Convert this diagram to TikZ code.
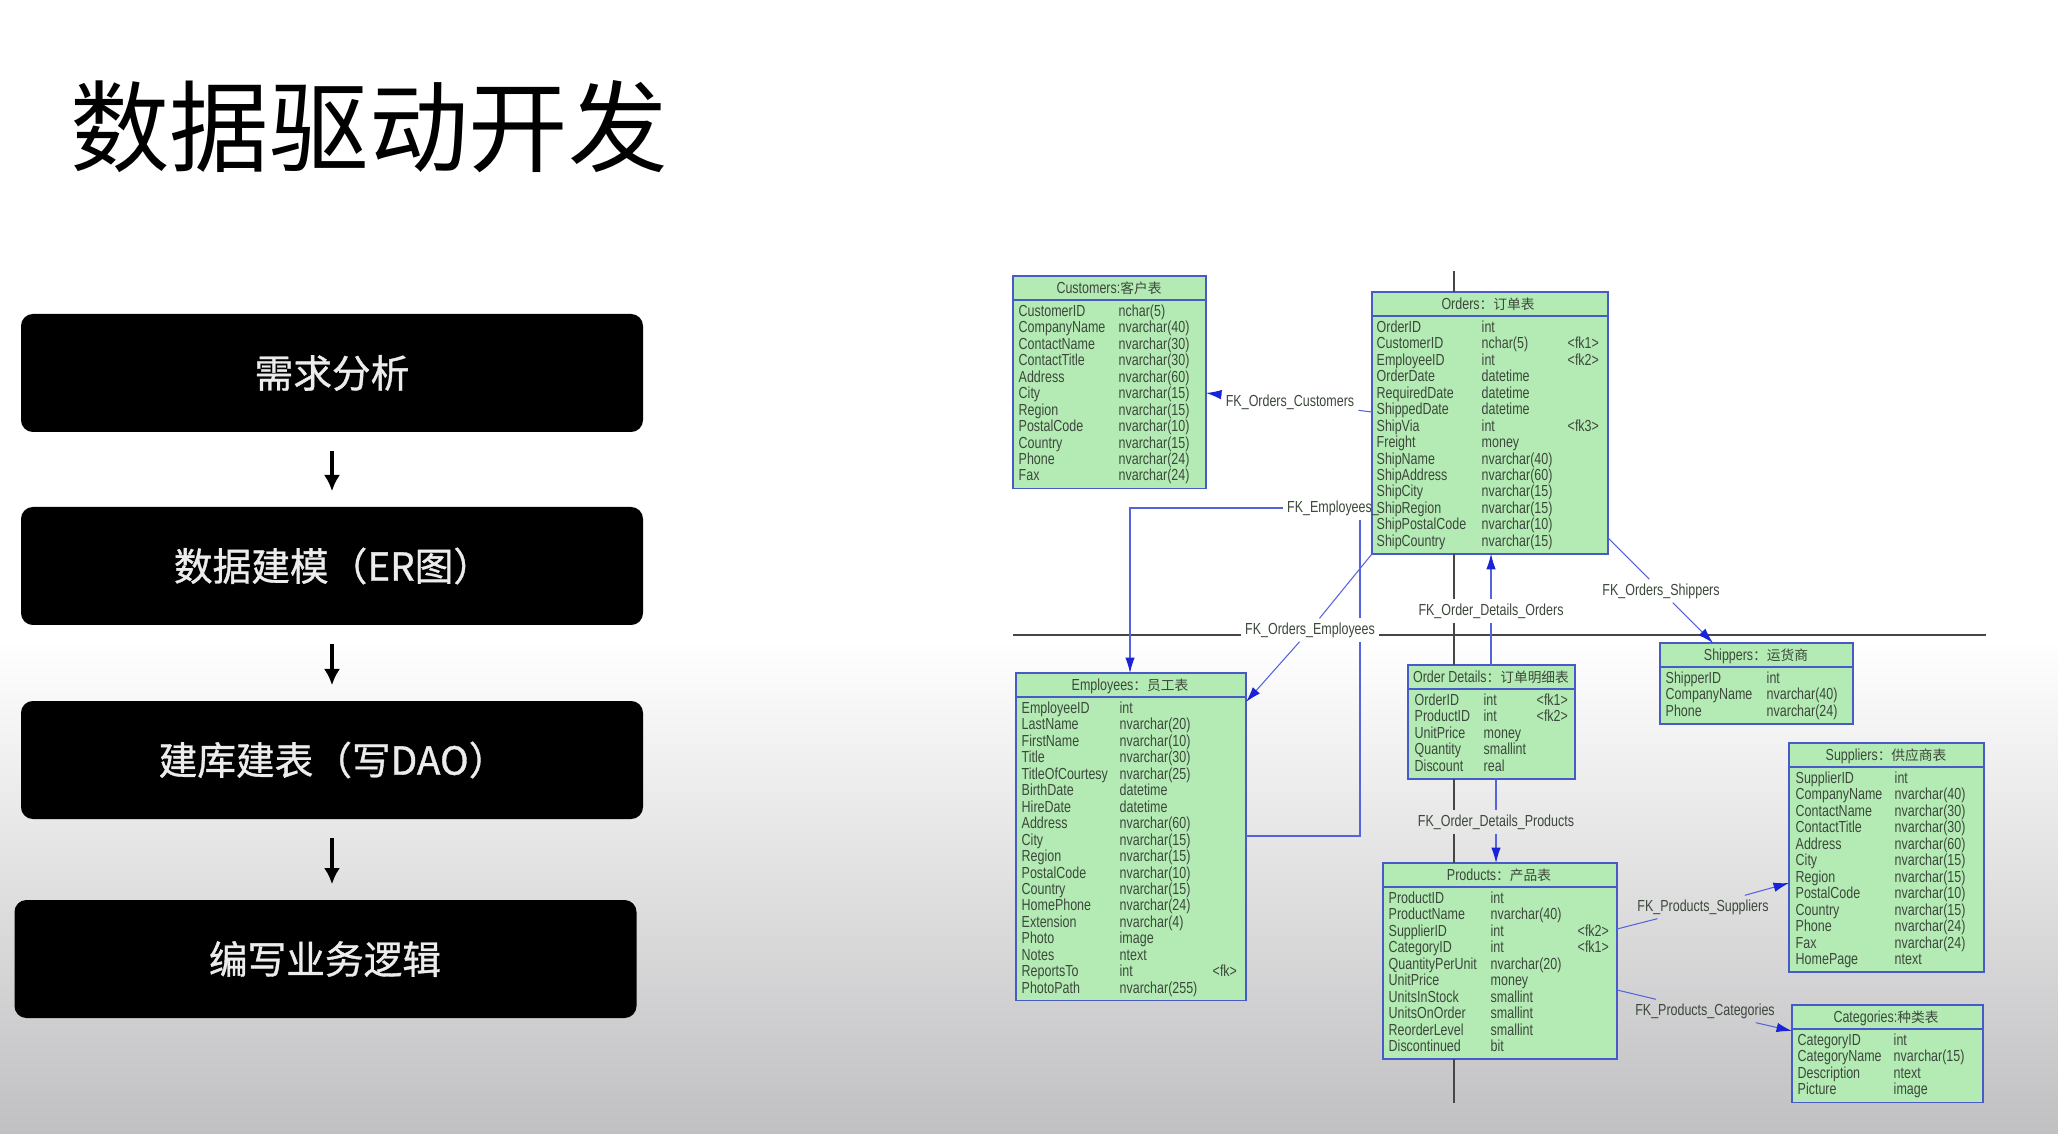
\documentclass[tikz,border=0pt]{standalone}
\usepackage{fontspec}
\usetikzlibrary{arrows.meta,calc}
\newfontfamily\erfont[FakeStretch=0.78]{Liberation Sans}
\newfontfamily\cjk{Noto Sans CJK SC}
\newfontfamily\cjkm[FakeBold=0.9]{Noto Sans CJK SC}
\newcommand\pxu{0.01cm}
\newcommand\ersize{\fontsize{4.55pt}{5pt}\selectfont}
\newcommand\hz[1]{{\cjk\fontsize{3.9pt}{4.5pt}\selectfont #1}}
\definecolor{tblfill}{RGB}{180,235,180}
\definecolor{tblline}{RGB}{72,90,200}
\definecolor{fkblue}{RGB}{85,100,220}
\definecolor{arrblue}{RGB}{25,35,215}
\definecolor{ertext}{RGB}{60,72,60}
\definecolor{pagecol}{RGB}{70,70,70}
\definecolor{bgbot}{RGB}{192,192,194}
\definecolor{flowtext}{RGB}{236,236,236}
\tikzset{
  tbl/.style={draw=tblline, fill=tblfill, line width=0.45pt, anchor=north west, inner sep=0pt, outer sep=0pt},
  tblsep/.style={draw=tblline, line width=0.45pt},
  cell/.style={anchor=base west, inner sep=0pt, font=\erfont\ersize, text=ertext},
  hdr/.style={anchor=base, inner sep=0pt, font=\erfont\ersize, text=ertext},
  fklbl/.style={inner sep=1pt, font=\erfont\ersize, text=ertext},
  fk/.style={draw=fkblue, line width=0.3pt},
  fkarr/.style={draw=fkblue, line width=0.3pt, -{Latex[length=4.4pt,width=2.7pt,color=arrblue]}},
  page/.style={draw=pagecol, line width=0.3pt},
  flowbox/.style={fill=black, rounded corners=3.4pt, inner sep=0pt, minimum width=622*\pxu, minimum height=118*\pxu},
  flowtxt/.style={font=\cjkm\fontsize{11pt}{13pt}\selectfont, text=flowtext, inner sep=0pt},
  flowarr/.style={draw=black, line width=0.9pt, -{Latex[length=4.6pt,width=4.6pt]}, shorten <=5.3pt, shorten >=4.3pt}
}
\newcommand\ertable[5]{%
  \pgfmathsetmacro\tabh{48+(#5-1)*16.45}%
  \node[tbl, minimum width=#4*\pxu, minimum height=\tabh*\pxu] (#1) at (#2,#3) {};
  \draw[tblsep] ([yshift=-24*\pxu]#1.north west) -- ([yshift=-24*\pxu]#1.north east);
}
\newcommand\errows[5]{%
  \foreach \fa/\fb [count=\i from 0] in {#5} {
    \node[cell] (#1-a\i) at (#2, #4+40.5+\i*16.45) {\fa};
    \node[cell] (#1-b\i) at (#3, #4+40.5+\i*16.45) {\fb};
  }%
}
\begin{document}
\begin{tikzpicture}[x=0.01cm, y=-0.01cm]
\useasboundingbox (0,0) rectangle (2058,1134);
\fill[white] (0,0) rectangle (2058,1134);
\shade[top color=white, bottom color=bgbot] (0,640) rectangle (2058,1134);

% title
\node[font=\cjk\fontsize{28.3pt}{32pt}\selectfont, inner sep=0pt] (title) at (369,127) {数据驱动开发};

% flow
\node[flowbox] (b1) at (332,373) {};
\node[flowbox] (b2) at (332,566) {};
\node[flowbox] (b3) at (332,760) {};
\node[flowbox] (b4) at (325.5,959) {};
\node[flowtxt] (t1) at (332,373) {需求分析};
\node[flowtxt] (t2) at (333,566) {数据建模（ER图）};
\node[flowtxt] (t3) at (333,760) {建库建表（写DAO）};
\node[flowtxt] (t4) at (325,959) {编写业务逻辑};
\draw[flowarr] (b1.south) -- (b2.north);
\draw[flowarr] (b2.south) -- (b3.north);
\draw[flowarr] (b3.south) -- (b3.south |- b4.north);

% tables
\ertable{cust}{1013}{276}{193}{11}
\node[hdr] (cust-h) at (1109,293.5) {Customers:\hz{客户表}};
\errows{cust}{1018}{1118}{276}{CustomerID/nchar(5), CompanyName/nvarchar(40), ContactName/nvarchar(30), ContactTitle/nvarchar(30), Address/nvarchar(60), City/nvarchar(15), Region/nvarchar(15), PostalCode/nvarchar(10), Country/nvarchar(15), Phone/nvarchar(24), Fax/nvarchar(24)}

\ertable{orders}{1372}{292}{236}{14}
\node[hdr] (orders-h) at (1488,309.5) {Orders\hz{：订单表}};
\errows{orders}{1376}{1481}{292}{OrderID/int, CustomerID/nchar(5), EmployeeID/int, OrderDate/datetime, RequiredDate/datetime, ShippedDate/datetime, ShipVia/int, Freight/money, ShipName/nvarchar(40), ShipAddress/nvarchar(60), ShipCity/nvarchar(15), ShipRegion/nvarchar(15), ShipPostalCode/nvarchar(10), ShipCountry/nvarchar(15)}
\node[cell] (orders-fk1) at (1567,292+40.5+1*16.45) {<fk1>};
\node[cell] (orders-fk2) at (1567,292+40.5+2*16.45) {<fk2>};
\node[cell] (orders-fk3) at (1567,292+40.5+6*16.45) {<fk3>};

\ertable{emp}{1016}{673}{230}{18}
\node[hdr] (emp-h) at (1130,690.5) {Employees\hz{：员工表}};
\errows{emp}{1021}{1119}{673}{EmployeeID/int, LastName/nvarchar(20), FirstName/nvarchar(10), Title/nvarchar(30), TitleOfCourtesy/nvarchar(25), BirthDate/datetime, HireDate/datetime, Address/nvarchar(60), City/nvarchar(15), Region/nvarchar(15), PostalCode/nvarchar(10), Country/nvarchar(15), HomePhone/nvarchar(24), Extension/nvarchar(4), Photo/image, Notes/ntext, ReportsTo/int, PhotoPath/nvarchar(255)}
\node[cell] (emp-fk) at (1212,673+40.5+16*16.45) {<fk>};

\ertable{odet}{1408}{665}{167}{5}
\node[hdr] (odet-h) at (1491,682.5) {Order Details\hz{：订单明细表}};
\errows{odet}{1414}{1483}{665}{OrderID/int, ProductID/int, UnitPrice/money, Quantity/smallint, Discount/real}
\node[cell] (odet-fk1) at (1536,665+40.5) {<fk1>};
\node[cell] (odet-fk2) at (1536,665+40.5+16.45) {<fk2>};

\ertable{ship}{1660}{643}{193}{3}
\node[hdr] (ship-h) at (1756,660.5) {Shippers\hz{：运货商}};
\errows{ship}{1665}{1766}{643}{ShipperID/int, CompanyName/nvarchar(40), Phone/nvarchar(24)}

\ertable{supp}{1789}{743}{195}{12}
\node[hdr] (supp-h) at (1886,760.5) {Suppliers\hz{：供应商表}};
\errows{supp}{1795}{1894}{743}{SupplierID/int, CompanyName/nvarchar(40), ContactName/nvarchar(30), ContactTitle/nvarchar(30), Address/nvarchar(60), City/nvarchar(15), Region/nvarchar(15), PostalCode/nvarchar(10), Country/nvarchar(15), Phone/nvarchar(24), Fax/nvarchar(24), HomePage/ntext}

\ertable{prod}{1383}{863}{234}{10}
\node[hdr] (prod-h) at (1499,880.5) {Products\hz{：产品表}};
\errows{prod}{1388}{1490}{863}{ProductID/int, ProductName/nvarchar(40), SupplierID/int, CategoryID/int, QuantityPerUnit/nvarchar(20), UnitPrice/money, UnitsInStock/smallint, UnitsOnOrder/smallint, ReorderLevel/smallint, Discontinued/bit}
\node[cell] (prod-fk2) at (1577,863+40.5+2*16.45) {<fk2>};
\node[cell] (prod-fk1) at (1577,863+40.5+3*16.45) {<fk1>};

\ertable{cat}{1792}{1005}{191}{4}
\node[hdr] (cat-h) at (1886,1022.5) {Categories:\hz{种类表}};
\errows{cat}{1797}{1893}{1005}{CategoryID/int, CategoryName/nvarchar(15), Description/ntext, Picture/image}

% relation labels
\node[fklbl] (lOC) at (1290,402) {FK\_Orders\_Customers};
\node[fklbl, anchor=west] (lEmp) at (1283,508) {FK\_Employees\_};
\node[fklbl] (lOE) at (1310,630) {FK\_Orders\_Employees};
\node[fklbl] (lODO) at (1491,611) {FK\_Order\_Details\_Orders};
\node[fklbl] (lOS) at (1661,591) {FK\_Orders\_Shippers};
\node[fklbl] (lODP) at (1496,822) {FK\_Order\_Details\_Products};
\node[fklbl] (lPS) at (1703,907) {FK\_Products\_Suppliers};
\node[fklbl] (lPC) at (1705,1011) {FK\_Products\_Categories};

% page border lines
\coordinate (vt) at (1454,271);
\coordinate (vb) at (1454,1103);
\coordinate (hl) at (1013,635);
\coordinate (hr) at (1986,635);
\draw[page] (vt) -- (vt |- orders.north);
\draw[page] (vt |- orders.south) -- (vt |- lODO.north);
\draw[page] (vt |- lODO.south) -- (vt |- odet.north);
\draw[page] (vt |- odet.south) -- (vt |- lODP.north);
\draw[page] (vt |- lODP.south) -- (vt |- prod.north);
\draw[page] (vt |- prod.south) -- (vb);
\draw[page] (hl) -- (lOE.west |- hl);
\draw[page] (lOE.east |- hl) -- (hr);

% relations
\draw[fk] (orders.west |- 0,412) -- (lOC);
\draw[fkarr] (lOC) -- (cust.east |- 0,393);

\draw[fk] (emp.east |- 0,836) -| (1360,0 |- lOE.south);
\draw[fk] (1360,0 |- lOE.north) -- (1360,0 |- lEmp.south);
\draw[fkarr] (lEmp.west) -| (emp.north -| 1130,0);

\draw[fk] (orders.south west) -- (lOE);
\draw[fkarr] (lOE) -- (emp.east |- 0,702);

\draw[fk] (odet.north -| 1491,0) -- (lODO);
\draw[fkarr] (lODO) -- (orders.south -| 1491,0);

\draw[fk] (orders.east |- 0,538) -- (lOS);
\draw[fkarr] (lOS) -- (ship.north -| 1713,0);

\draw[fk] (odet.south -| 1496,0) -- (lODP);
\draw[fkarr] (lODP) -- (prod.north -| 1496,0);

\draw[fk] (prod.east |- 0,929) -- (lPS);
\draw[fkarr] (lPS) -- (supp.west |- 0,883);

\draw[fk] (prod.east |- 0,990) -- (lPC);
\draw[fkarr] (lPC) -- (cat.west |- 0,1031);
\end{tikzpicture}
\end{document}
